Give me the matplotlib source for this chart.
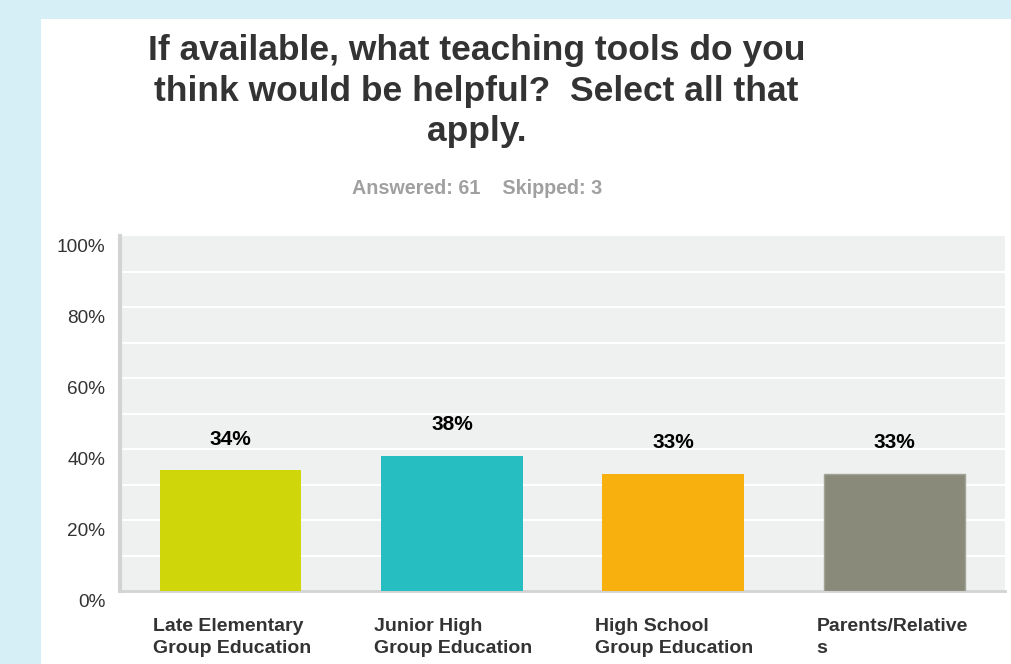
"""Survey bar chart: teaching tools"""

from matplotlib import pyplot as plt
from matplotlib.patches import Rectangle
import numpy as np

# data
categories = ["Late Elementary\nGroup Education", "Junior High\nGroup Education",
              "High School\nGroup Education", "Parents/Relative\ns"]
values = [34, 38, 33, 33]
colors = ["#cfd70b", "#26bec1", "#f8b00e", "#898a79"]
yticks = [0, 20, 40, 60, 80, 100]
title = "If available, what teaching tools do you\nthink would be helpful?  Select all that\napply."
subtitle = "Answered: 61    Skipped: 3"

plt.rcParams["font.family"] = ["Liberation Sans", "DejaVu Sans"]

fig = plt.figure(figsize=(10.11, 6.64), dpi=100, facecolor="#d6eef5")
# white panel behind everything
fig.patches.append(Rectangle((41 / 1011, 0), 1, 1 - 19 / 664, transform=fig.transFigure,
                             facecolor="white", edgecolor="none", zorder=-10))

ax = fig.add_axes([120 / 1011, 1 - 591 / 664, 885 / 1011, 355 / 664])
ax.set_facecolor("#eff0f0")

x = np.arange(len(values))
width = 0.64
bars = ax.bar(x, values, width=width, color=colors, zorder=3)
bars[-1].set_edgecolor("#a3a498")
bars[-1].set_linewidth(1)

ax.set_xlim(-0.5, len(values) - 0.5)
ax.set_ylim(0, 100)

# white grid every 10%
for g in range(10, 100, 10):
    ax.axhline(g, color="white", lw=1.5, zorder=1)

ax.set_xticks([])
ax.set_yticks([])
for s in ["top", "right"]:
    ax.spines[s].set_visible(False)
ax.spines["left"].set_color("#d2d3d3")
ax.spines["left"].set_linewidth(3)
ax.spines["bottom"].set_color("#d2d3d3")
ax.spines["bottom"].set_linewidth(2)

# y labels, sitting a little below their lines
for t in yticks:
    ax.annotate(f"{t}%", xy=(0, t), xycoords=("axes fraction", "data"),
                xytext=(-10.5, -8), textcoords="offset points",
                ha="right", va="center", fontsize=13.7, color="#333333",
                annotation_clip=False)

# value labels above the bars
for xi, v in zip(x, values):
    ax.annotate(f"{v}%", xy=(xi, v), xytext=(0, 22.5), textcoords="offset points",
                ha="center", va="center", fontsize=15, fontweight="bold", color="black")

# category labels under the bars
for xi, c in zip(x, categories):
    ax.annotate(c, xy=(xi - width / 2, 0), xytext=(-5, -19.5), textcoords="offset points",
                ha="left", va="top", fontsize=14, fontweight="bold", color="#333333",
                linespacing=1.38, annotation_clip=False)

fig.text(476.5 / 1011, 1 - 34 / 664, title, ha="center", va="top", fontsize=25.5,
         fontweight="bold", color="#333333", linespacing=1.29)
fig.text(477.5 / 1011, 1 - 188 / 664, subtitle, ha="center", va="center", fontsize=14.2,
         fontweight="bold", color="#a0a0a0")

plt.savefig("out.png", dpi=100, facecolor=fig.get_facecolor())
